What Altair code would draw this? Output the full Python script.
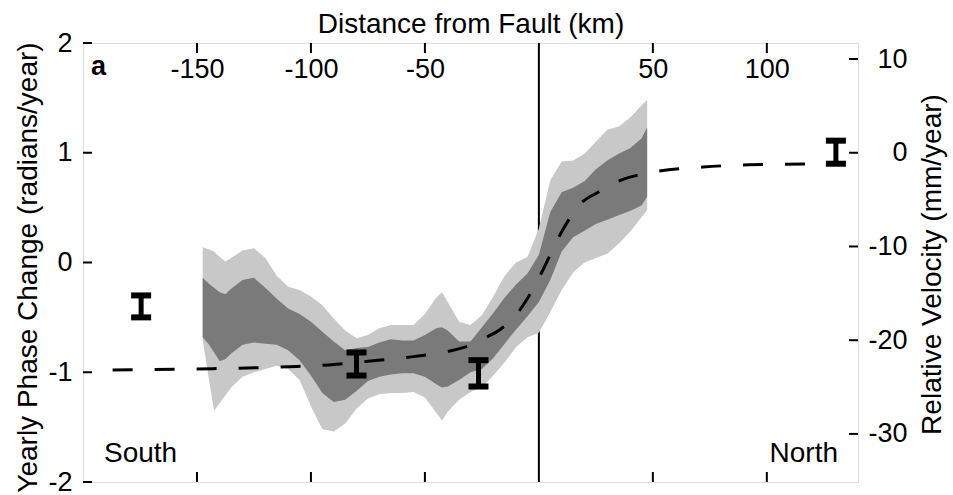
import altair as alt
import pandas as pd

# Distance from the fault (km) at which the uncertainty envelopes are sampled
band_km = [-147.5, -145, -142.5, -140, -137.5, -135, -130, -125, -120, -115,
           -110, -105, -100, -95, -90, -85, -80, -75, -70, -65,
           -60, -55, -50, -45, -42.5, -40, -35, -30, -25, -20,
           -15, -10, -5, 0, 5, 10, 15, 20, 25, 30,
           35, 40, 45, 47.5]

# Outer (light) envelope, radians/year
outer_hi = [0.14, 0.12, 0.10, 0.05, 0.01, 0.04, 0.11, 0.13, 0.04, -0.12,
            -0.22, -0.25, -0.31, -0.39, -0.51, -0.62, -0.69, -0.66, -0.60, -0.57,
            -0.57, -0.57, -0.47, -0.32, -0.27, -0.36, -0.54, -0.57, -0.48, -0.31,
            -0.12, 0.00, 0.05, 0.31, 0.75, 0.92, 0.93, 0.99, 1.10, 1.21,
            1.24, 1.32, 1.43, 1.48]
outer_lo = [-0.71, -1.03, -1.35, -1.28, -1.21, -1.14, -1.04, -1.00, -0.97, -0.94,
            -0.97, -1.07, -1.31, -1.52, -1.54, -1.47, -1.33, -1.24, -1.20, -1.19,
            -1.19, -1.18, -1.23, -1.37, -1.44, -1.36, -1.25, -1.18, -1.14, -1.03,
            -0.91, -0.77, -0.68, -0.64, -0.45, -0.25, -0.09, 0.00, 0.04, 0.08,
            0.17, 0.28, 0.41, 0.48]

# Inner (dark) envelope, radians/year
inner_hi = [-0.14, -0.19, -0.23, -0.27, -0.29, -0.24, -0.16, -0.14, -0.23, -0.33,
            -0.42, -0.47, -0.54, -0.63, -0.72, -0.80, -0.78, -0.77, -0.73, -0.70,
            -0.71, -0.71, -0.66, -0.60, -0.59, -0.62, -0.72, -0.72, -0.59, -0.46,
            -0.32, -0.20, -0.10, 0.07, 0.46, 0.64, 0.68, 0.74, 0.85, 0.93,
            0.99, 1.04, 1.13, 1.23]
inner_lo = [-0.68, -0.74, -0.82, -0.90, -0.88, -0.83, -0.75, -0.73, -0.74, -0.75,
            -0.80, -0.89, -1.03, -1.19, -1.27, -1.25, -1.17, -1.08, -1.04, -1.02,
            -1.01, -1.01, -1.04, -1.11, -1.14, -1.13, -1.07, -1.00, -0.97, -0.87,
            -0.74, -0.61, -0.49, -0.36, -0.16, 0.10, 0.23, 0.29, 0.35, 0.39,
            0.43, 0.47, 0.52, 0.60]

# Dashed model profile
model_km = [-187, -150, -110, -90, -75, -56, -40, -31, -24, -17, -9, -6,
            1, 10, 18, 26, 36, 49, 72, 92, 131]
model_phase = [-0.98, -0.97, -0.95, -0.93, -0.90, -0.86, -0.81, -0.76, -0.69,
               -0.61, -0.45, -0.36, -0.10, 0.28, 0.53, 0.64, 0.75, 0.82, 0.87,
               0.89, 0.90]

# GPS-style error bars
bar_km = [-174.5, -80, -26.5, 130.3]
bar_lo = [-0.50, -1.03, -1.13, 0.90]
bar_hi = [-0.30, -0.82, -0.89, 1.11]

# Axis ticks
x_ticks = [-150, -100, -50, 50, 100]
phase_ticks = [-2, -1, 0, 1, 2]
velocity_ticks = [-30, -20, -10, 0, 10]
fault_km = [0]

# Conversion: 1 radian/year of phase change = 11.71 mm/year, 0 mm/yr at 1 rad/yr
vel_domain = [(-2 - 1) * 11.71, (2 - 1) * 11.71]

W, H = 775, 439
FONT = "Liberation Sans"
LIGHT = "#c8c8c8"
DARK = "#7a7a7a"

band_df = pd.DataFrame({"km": band_km, "outer_hi": outer_hi, "outer_lo": outer_lo,
                        "inner_hi": inner_hi, "inner_lo": inner_lo})
model_df = pd.DataFrame({"km": model_km, "phase": model_phase})
bar_df = pd.DataFrame({"km": bar_km, "lo": bar_lo, "hi": bar_hi})
xt_df = pd.DataFrame({"km": x_ticks})
pt_df = pd.DataFrame({"phase": phase_ticks})
vt_df = pd.DataFrame({"v": velocity_ticks})
fault_df = pd.DataFrame({"km": fault_km})

x_scale = alt.Scale(domain=[-200, 140], nice=False, zero=False)
y_scale = alt.Scale(domain=[-2, 2], nice=False, zero=False)
v_scale = alt.Scale(domain=vel_domain, nice=False, zero=False)

x_axis = alt.Axis(
    orient="top", values=x_ticks, ticks=False, tickSize=0, domain=False, grid=False,
    labelPadding=-34, labelBaseline="alphabetic", labelFontSize=27, labelFont=FONT,
    labelColor="black", labelOverlap=False, labelFlush=False,
    labelExpr="'' + datum.value",
    title="Distance from Fault (km)", titleFont=FONT, titleFontSize=28,
    titleFontWeight="normal", titleColor="black", titleX=W / 2, titleY=-11,
    titleBaseline="alphabetic", titleAlign="center",
)
y_axis = alt.Axis(
    orient="left", values=phase_ticks, ticks=False, tickSize=0, domain=False, grid=False,
    labelPadding=11, labelFontSize=27, labelFont=FONT, labelColor="black",
    labelOverlap=False, labelExpr="'' + datum.value",
    title="Yearly Phase Change (radians/year)", titleFont=FONT, titleFontSize=28,
    titleFontWeight="normal", titleColor="black", titleAngle=270,
    titleX=-47, titleY=224, titleBaseline="alphabetic", titleAlign="center",
)
v_axis = alt.Axis(
    orient="right", values=velocity_ticks, ticks=False, tickSize=0, domain=False,
    grid=False, labelPadding=49, labelAlign="right", labelFontSize=27, labelFont=FONT,
    labelColor="black", labelOverlap=False, labelExpr="'' + datum.value",
    title="Relative Velocity (mm/year)", titleFont=FONT, titleFontSize=28,
    titleFontWeight="normal", titleColor="black", titleAngle=270,
    titleX=82, titleY=221, titleBaseline="alphabetic", titleAlign="center",
)


def X(field):
    return alt.X(field, type="quantitative", scale=x_scale, axis=x_axis)


def Y(field):
    return alt.Y(field, type="quantitative", scale=y_scale, axis=y_axis)


fault = alt.Chart(fault_df).mark_rule(color="black", strokeWidth=2).encode(
    x=X("km"), y=alt.value(0), y2=alt.value(H))

outer = alt.Chart(band_df).mark_area(color=LIGHT, opacity=1).encode(
    x=X("km"), y=Y("outer_hi"), y2="outer_lo")
inner = alt.Chart(band_df).mark_area(color=DARK, opacity=1).encode(
    x=X("km"), y=Y("inner_hi"), y2="inner_lo")

model = alt.Chart(model_df).mark_line(
    color="black", strokeWidth=3, strokeDash=[20, 22], interpolate="monotone"
).encode(x=X("km"), y=Y("phase"))

stems = alt.Chart(bar_df).mark_rule(color="black", strokeWidth=5).encode(
    x=X("km"), y=Y("lo"), y2="hi")
caps_lo = alt.Chart(bar_df).mark_tick(
    orient="horizontal", size=20, thickness=6, color="black", opacity=1
).encode(x=X("km"), y=Y("lo"))
caps_hi = alt.Chart(bar_df).mark_tick(
    orient="horizontal", size=20, thickness=6, color="black", opacity=1
).encode(x=X("km"), y=Y("hi"))

# inward-pointing ticks on the frame
top_ticks = alt.Chart(xt_df).mark_rule(color="black", strokeWidth=2).encode(
    x=X("km"), y=alt.value(0), y2=alt.value(10))
bottom_ticks = alt.Chart(xt_df).mark_rule(color="black", strokeWidth=2).encode(
    x=X("km"), y=alt.value(H - 10), y2=alt.value(H))
left_ticks = alt.Chart(pt_df).mark_rule(color="black", strokeWidth=2).encode(
    y=Y("phase"), x=alt.value(0), x2=alt.value(9))

panel = alt.Chart(pd.DataFrame({"t": ["a"]})).mark_text(
    font=FONT, fontSize=27, fontWeight="bold", align="left", baseline="alphabetic",
    color="black"
).encode(text="t:N", x=alt.value(8), y=alt.value(32))
south = alt.Chart(pd.DataFrame({"t": ["South"]})).mark_text(
    font=FONT, fontSize=28, align="left", baseline="alphabetic", color="black"
).encode(text="t:N", x=alt.value(21), y=alt.value(419))
north = alt.Chart(pd.DataFrame({"t": ["North"]})).mark_text(
    font=FONT, fontSize=28, align="right", baseline="alphabetic", color="black"
).encode(text="t:N", x=alt.value(755), y=alt.value(419))

phase_layer = alt.layer(
    fault, outer, inner, model, stems, caps_lo, caps_hi,
    top_ticks, bottom_ticks, left_ticks, panel, south, north,
)

velocity_layer = alt.Chart(vt_df).mark_rule(color="black", strokeWidth=2).encode(
    y=alt.Y("v", type="quantitative", scale=v_scale, axis=v_axis),
    x=alt.value(W - 9), x2=alt.value(W),
)

chart = (
    alt.layer(phase_layer, velocity_layer)
    .resolve_scale(y="independent")
    .properties(
        width=W, height=H,
        autosize=alt.AutoSizeParams(type="none"),
        padding={"left": 83, "top": 43, "right": 953 - 83 - W, "bottom": 495 - 43 - H},
        background="white",
    )
    .configure_view(stroke="black", strokeWidth=3.5)
    .configure(font=FONT)
)

chart.save("out.html", embed_options={"renderer": "svg", "actions": False})
